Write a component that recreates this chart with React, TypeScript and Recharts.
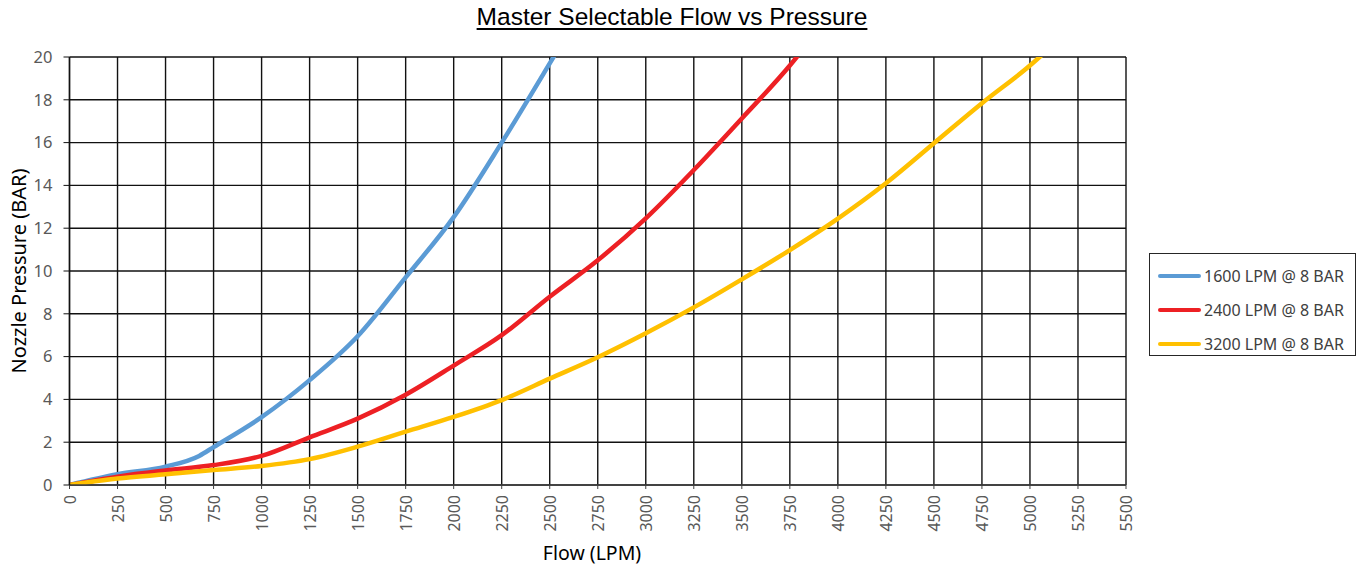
import React from "react";
import { LineChart, Line, XAxis, YAxis, CartesianGrid } from "recharts";

// values (last point of each runs just past the 20 BAR top edge)
const flow1600 = [0, 250, 500, 675, 750, 1000, 1250, 1500, 1750, 2000, 2250, 2500, 2560];
const pres1600 = [0, 0.5, 0.86, 1.36, 1.77, 3.17, 4.9, 6.95, 9.7, 12.52, 16.0, 19.7, 20.6];

const flow2400 = [0, 250, 500, 750, 1000, 1250, 1500, 1750, 2000, 2250, 2500, 2750, 3000, 3250, 3500, 3750, 3840];
const pres2400 = [0, 0.39, 0.68, 0.93, 1.36, 2.23, 3.1, 4.22, 5.58, 7.0, 8.8, 10.5, 12.46, 14.72, 17.13, 19.6, 20.6];

const flow3200 = [0, 250, 500, 750, 1000, 1250, 1500, 1750, 2000, 2250, 2500, 2750, 3000, 3250, 3500, 3750, 4000, 4250, 4500, 4750, 5000, 5100];
const pres3200 = [0, 0.3, 0.5, 0.7, 0.89, 1.21, 1.79, 2.49, 3.18, 3.97, 4.97, 5.97, 7.09, 8.3, 9.61, 10.98, 12.45, 14.1, 15.97, 17.84, 19.6, 20.4];

const xTicks = [0, 250, 500, 750, 1000, 1250, 1500, 1750, 2000, 2250, 2500, 2750, 3000, 3250, 3500, 3750, 4000, 4250, 4500, 4750, 5000, 5250, 5500];
const yTicks = [0, 2, 4, 6, 8, 10, 12, 14, 16, 18, 20];

const toPoints = (flows: number[], pressures: number[]) =>
  flows.map((f, i) => ({ flow: f, pressure: pressures[i] }));

const series = [
  { name: "1600 LPM @ 8 BAR", color: "#5B9BD5", data: toPoints(flow1600, pres1600) },
  { name: "2400 LPM @ 8 BAR", color: "#ED2024", data: toPoints(flow2400, pres2400) },
  { name: "3200 LPM @ 8 BAR", color: "#FFC000", data: toPoints(flow3200, pres3200) },
];

const tickFont = "'Noto Sans', sans-serif";

const XTick = (props: any) => {
  const { x, y, payload } = props;
  return (
    <text
      x={x}
      y={y}
      transform={`rotate(-90, ${x}, ${y})`}
      textAnchor="end"
      dominantBaseline="central"
      fill="#595959"
      fontSize={16}
      fontFamily={tickFont}
    >
      {payload.value}
    </text>
  );
};

export default function App() {
  return (
    <div style={{ position: "absolute", left: 0, top: 0, width: 1362, height: 566, background: "#fff" }}>
      <div
        style={{
          position: "absolute",
          left: 0,
          width: 1344,
          top: 3,
          textAlign: "center",
          fontFamily: "'Liberation Sans', Arial, sans-serif",
          fontSize: 24.5,
          textDecoration: "underline",
          textUnderlineOffset: 3,
          color: "#000",
        }}
      >
        Master Selectable Flow vs Pressure
      </div>
      <div
        style={{
          position: "absolute",
          left: 18,
          top: 271,
          transform: "translate(-50%, -50%) rotate(-90deg)",
          whiteSpace: "nowrap",
          fontFamily: tickFont,
          fontSize: 20,
          color: "#000",
        }}
      >
        Nozzle Pressure (BAR)
      </div>
      <div
        style={{
          position: "absolute",
          left: 592,
          top: 552,
          transform: "translate(-50%, -50%)",
          whiteSpace: "nowrap",
          fontFamily: tickFont,
          fontSize: 19.5,
          color: "#000",
        }}
      >
        Flow (LPM)
      </div>
      <LineChart
        width={1362}
        height={566}
        margin={{ top: 57, right: 236, left: 9.5, bottom: 11 }}
        style={{ position: "absolute", left: 0, top: 0 }}
      >
        <CartesianGrid stroke="#111" strokeWidth={1.4} horizontalValues={yTicks} verticalValues={xTicks} />
        <XAxis
          type="number"
          dataKey="flow"
          domain={[0, 5500]}
          ticks={xTicks}
          interval={0}
          height={70}
          tick={<XTick />}
          tickSize={4}
          tickMargin={6}
          axisLine={{ stroke: "#404040", strokeWidth: 1.6 }}
          tickLine={{ stroke: "#404040" }}
          allowDataOverflow
        />
        <YAxis
          type="number"
          dataKey="pressure"
          domain={[0, 20]}
          ticks={yTicks}
          interval={0}
          width={60}
          tickSize={6}
          tickMargin={11}
          tick={{ fill: "#595959", fontSize: 16.5, fontFamily: tickFont }}
          axisLine={{ stroke: "#111", strokeWidth: 1.4 }}
          tickLine={{ stroke: "#111" }}
          allowDataOverflow
        />
        {series.map((s) => (
          <Line
            key={s.name}
            data={s.data}
            dataKey="pressure"
            name={s.name}
            type="monotone"
            stroke={s.color}
            strokeWidth={4.5}
            strokeLinecap="round"
            dot={false}
            activeDot={false}
            isAnimationActive={false}
          />
        ))}
      </LineChart>
      <div
        style={{
          position: "absolute",
          left: 1149,
          top: 253,
          width: 207,
          height: 103,
          border: "1px solid #262626",
          boxSizing: "border-box",
          paddingTop: 5,
          fontFamily: tickFont,
          fontSize: 16,
          color: "#404040",
          background: "#fff",
        }}
      >
        {series.map((s) => (
          <div key={s.name} style={{ display: "flex", alignItems: "center", height: 34, paddingLeft: 8 }}>
            <span style={{ width: 43, height: 4, borderRadius: 2, background: s.color, marginRight: 3 }} />
            <span>{s.name}</span>
          </div>
        ))}
      </div>
    </div>
  );
}
